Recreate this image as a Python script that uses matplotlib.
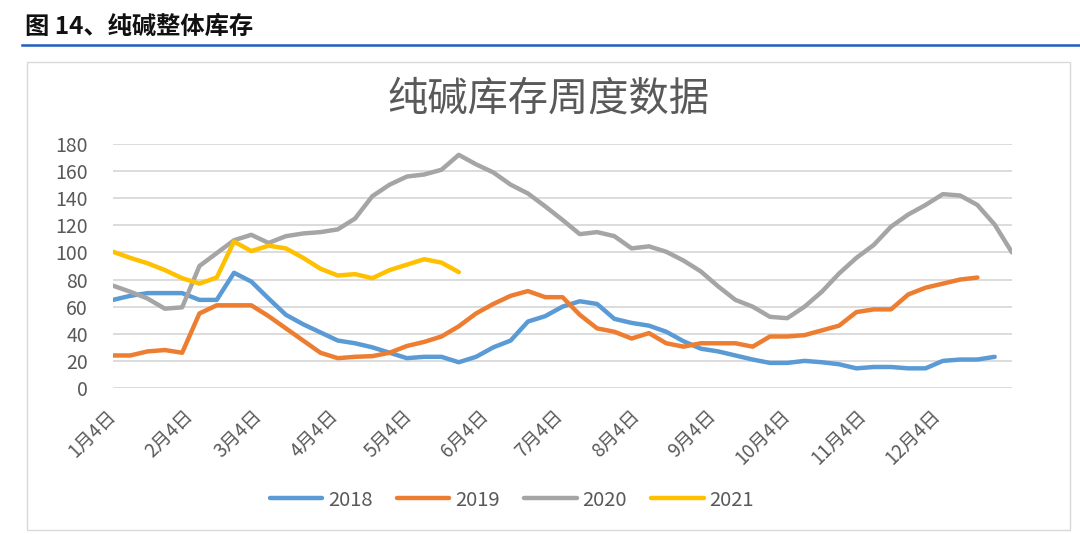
import matplotlib
matplotlib.use('Agg')
import matplotlib.pyplot as plt
from matplotlib.patches import Rectangle
from matplotlib.lines import Line2D
import numpy as np
import pandas as pd

plt.rcParams['font.family'] = ['Noto Sans CJK SC', 'DejaVu Sans']

# weekly points, 1月4日 onwards
dates = pd.date_range('2021-01-04', periods=53, freq='7D')
tick_dates = [pd.Timestamp(2021, m, 4) for m in range(1, 13)]
tick_labels = [f'{m}月4日' for m in range(1, 13)]

y2018 = [65, 68, 70, 70, 70, 65, 65, 85, 78.5, 66,
         54, 47, 41, 35, 33, 30, 26, 22, 23, 23,
         19, 23, 30, 35, 49, 53, 60, 64, 62, 51,
         48, 46, 41.5, 34.5, 29, 27, 24, 21, 18.5, 18.5,
         20, 19, 17.5, 14.5, 15.5, 15.5, 14.5, 14.5, 20, 21,
         21, 23]
y2019 = [24, 24, 27, 28, 26, 55, 61, 61, 61, 53,
         44, 35, 26, 22, 23, 23.5, 26, 31, 34, 38,
         45.5, 55, 62, 68, 71.5, 67, 67, 54, 44, 41.5,
         36.5, 40.5, 33, 30.5, 33, 33, 33, 30.5, 38, 38,
         39, 42.5, 46, 56, 58, 58, 69, 74, 77, 80,
         81.5]
y2020 = [75.5, 71, 66, 58.5, 59.5, 90, 99.5, 109, 113, 107,
         112, 114, 115, 117, 125, 141.5, 150, 156, 157.5, 161,
         172, 165, 159, 150, 143.5, 134, 124, 113.5, 115, 112,
         103, 104.5, 100.5, 94, 86, 75, 65, 60, 52.5, 51.5,
         60, 71, 84.5, 96, 105.5, 119, 128, 135, 143, 142,
         135, 120.5, 100]
y2021 = [100.5, 96, 92, 87, 81, 77, 81.5, 108, 101, 105,
         103, 96, 88, 83, 84, 81, 87, 91, 95, 92.5,
         85.5]

series = [('2018', y2018, '#5B9BD5'),
          ('2019', y2019, '#ED7D31'),
          ('2020', y2020, '#A5A5A5'),
          ('2021', y2021, '#FFC000')]

fig = plt.figure(figsize=(10.8, 5.34), dpi=100)

# header
fig.text(25/1080, 1 - 27/534, '图 14、纯碱整体库存', fontsize=17.5, fontweight='bold',
         color='#111111', ha='left', va='center')
fig.add_artist(Line2D([22/1080, 1], [1 - 45/534, 1 - 45/534], color='#1F5FBF', lw=1.8))

# chart frame
fig.add_artist(Rectangle((27/1080, 1 - 530/534), (1070-27)/1080, (530-62)/534,
                         transform=fig.transFigure, fill=False, edgecolor='#D9D9D9', lw=1))

fig.text(548/1080, 1 - 99/534, '纯碱库存周度数据', fontsize=29, color='#595959',
         ha='center', va='center', fontweight='light')

ax = fig.add_axes([113/1080, 1 - 388/534, (1012-113)/1080, (388-144)/534])

lines = []
for name, vals, col in series:
    ln, = ax.plot(dates[:len(vals)], vals, color=col, lw=3.2, label=name,
                  solid_capstyle='round', solid_joinstyle='round')
    lines.append(ln)

ax.set_ylim(0, 180)
ax.set_yticks(range(0, 181, 20))
ax.set_xlim(dates[0], dates[-1])
ax.set_xticks(tick_dates)
ax.set_xticklabels(tick_labels, rotation=45, ha='right', va='center', rotation_mode='anchor')

ax.grid(axis='y', color='#D9D9D9', lw=1.3)
ax.grid(axis='x', visible=False)
ax.set_axisbelow(True)
for s in ax.spines.values():
    s.set_visible(False)
ax.tick_params(axis='y', length=0, pad=18, labelsize=14, labelcolor='#595959')
ax.tick_params(axis='x', length=0, pad=18, labelsize=13.5, labelcolor='#595959')

ax.legend(handles=lines, loc='center', bbox_to_anchor=(512/1080, 1 - 500/534),
          bbox_transform=fig.transFigure, ncol=4, frameon=False, fontsize=14.5,
          handlelength=2.6, handletextpad=0.3, columnspacing=1.2,
          labelcolor='#595959')

fig.savefig('out.png', dpi=100)
